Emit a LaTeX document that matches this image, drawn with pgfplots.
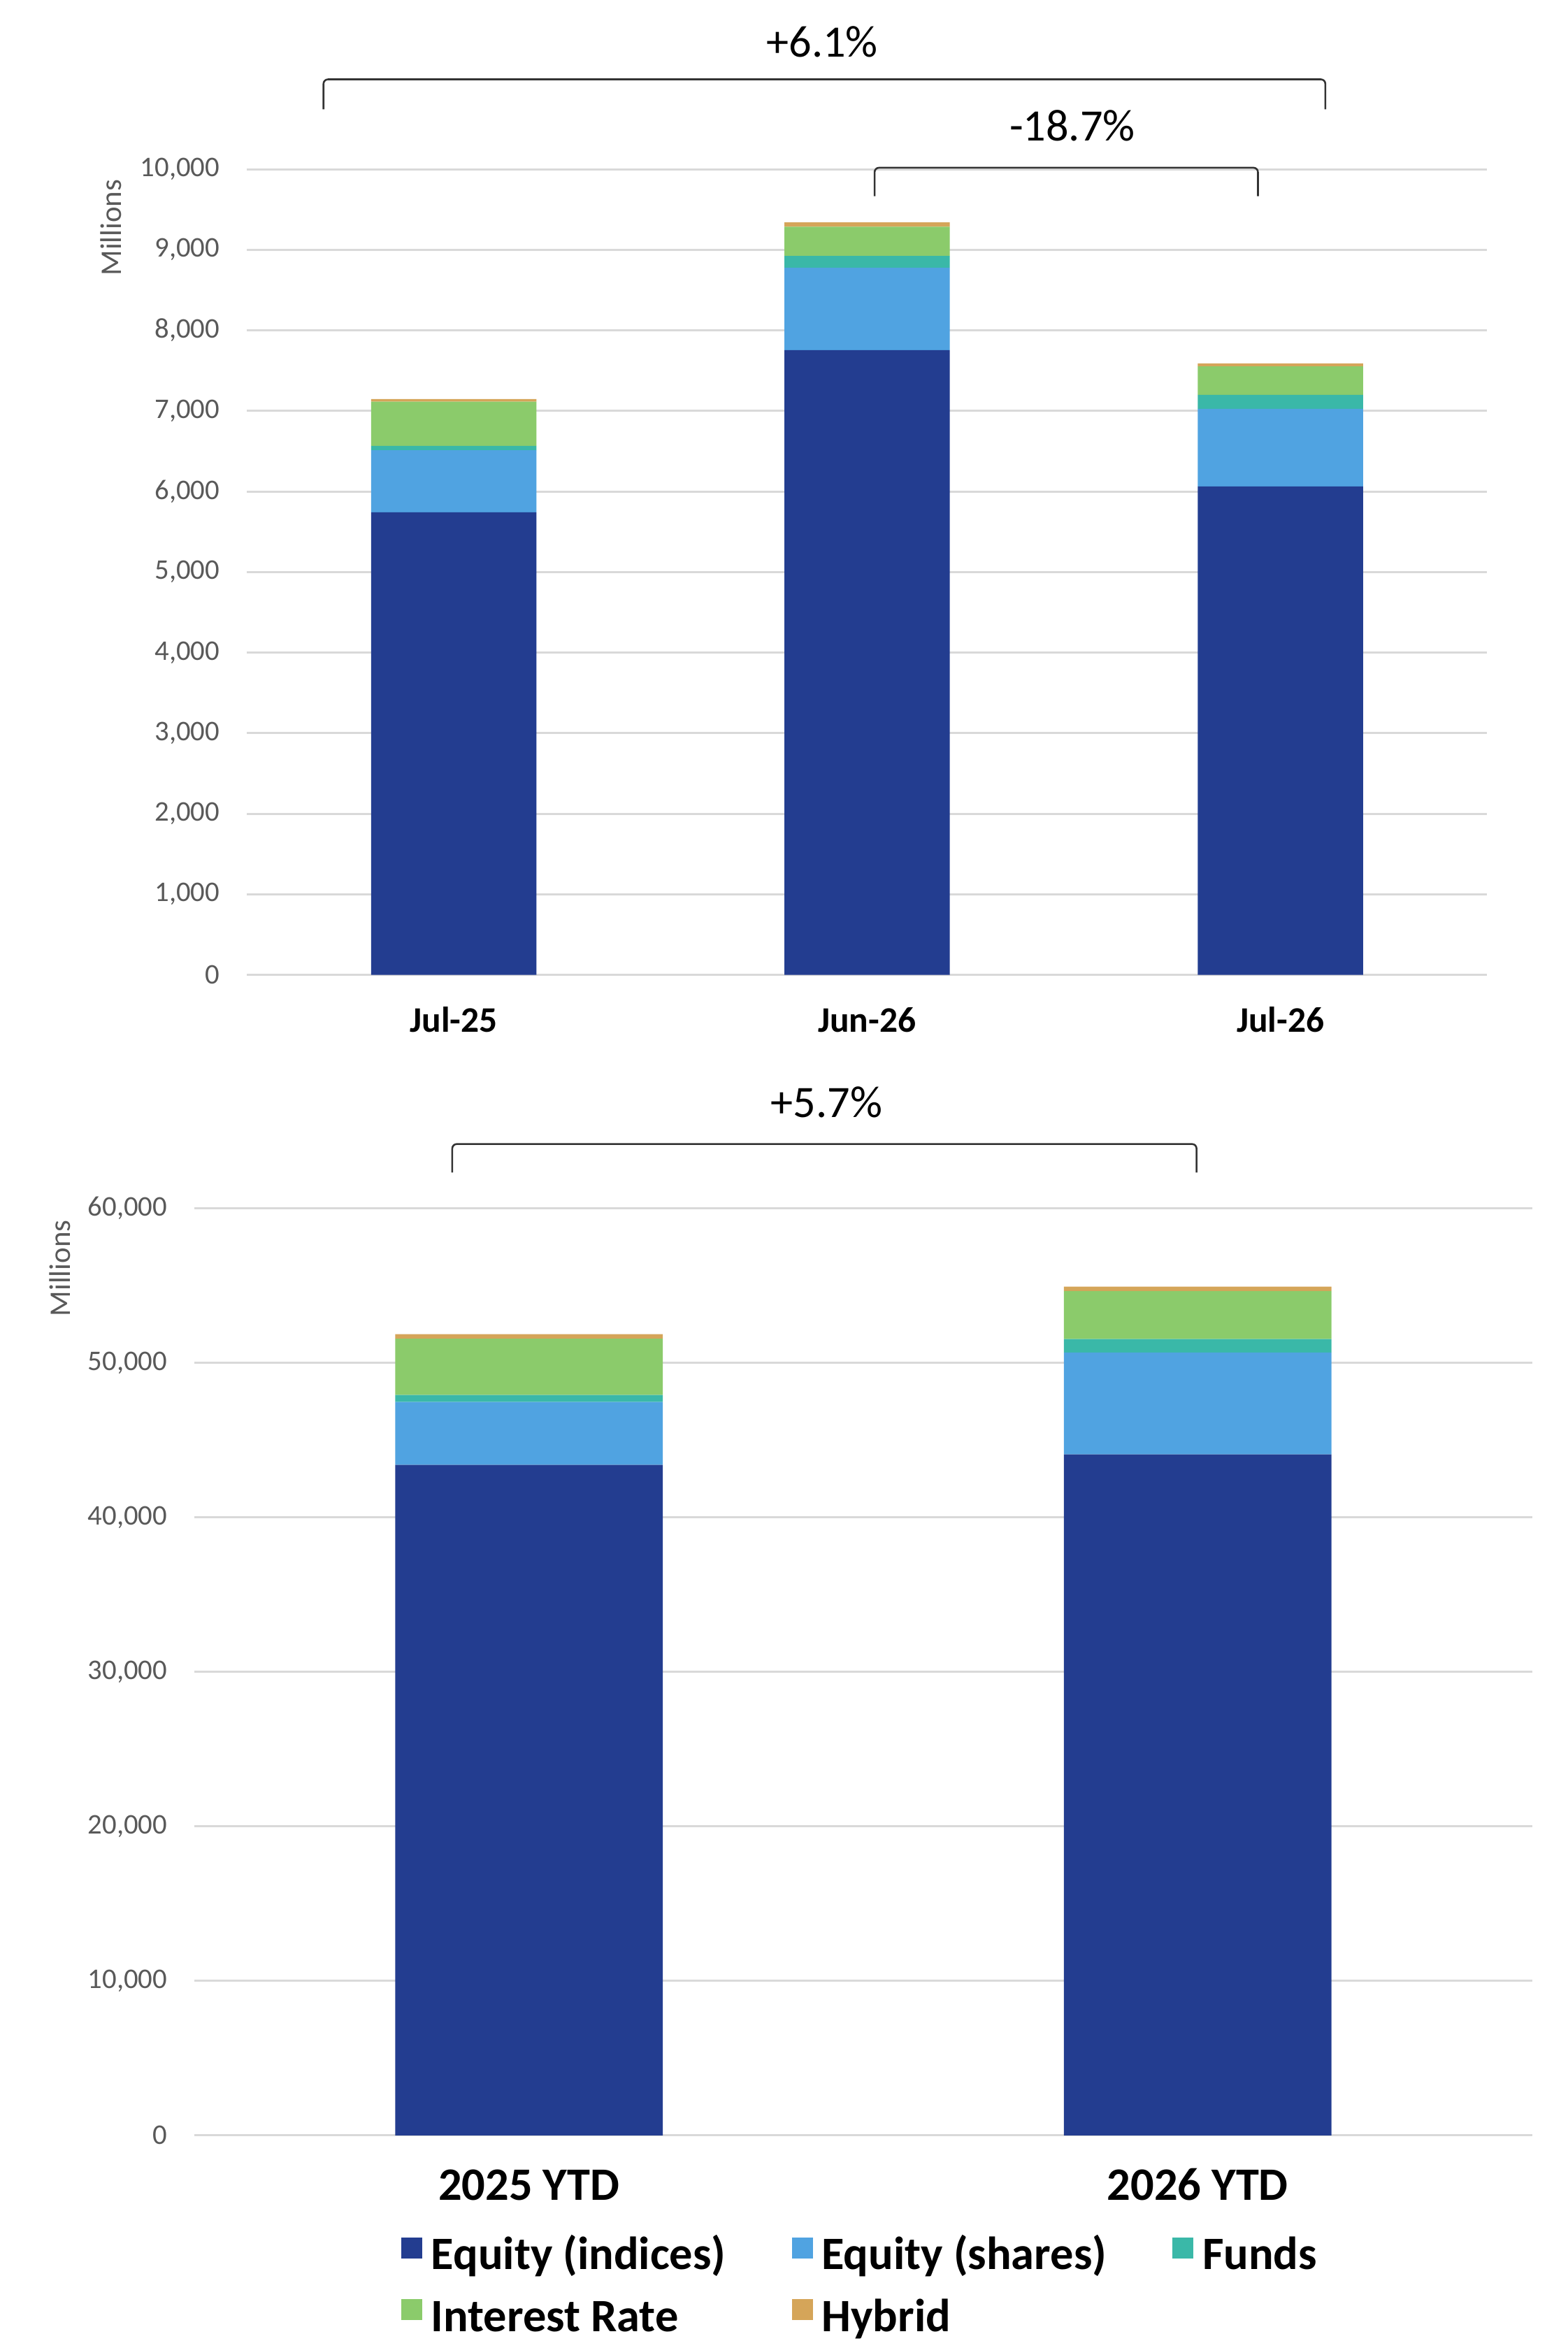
\documentclass[border=0pt]{standalone}
\usepackage{fontspec}
\setmainfont{Carlito}
\usepackage{pgfplots}
\pgfplotsset{compat=1.18}
\definecolor{cNavy}{HTML}{233D90}
\definecolor{cBlue}{HTML}{50A3E1}
\definecolor{cTeal}{HTML}{3AB8A8}
\definecolor{cGreen}{HTML}{8BCB6B}
\definecolor{cHyb}{HTML}{D5A559}
\definecolor{cGrid}{HTML}{D9D9D9}
\definecolor{cTick}{HTML}{595959}
\pgfplotsset{
  base/.style={
    scale only axis,
    ybar stacked,
    bar width=0.4,
    ymin=0,
    axis line style={draw=none},
    major tick style={draw=none},
    ymajorgrids,
    grid style={cGrid, line width=0.7pt},
    scaled y ticks=false,
    /pgf/number format/assume math mode=true,
    /pgf/number format/1000 sep={,},
    yticklabel style={font=\fontsize{9.5}{11}\selectfont, text=cTick, anchor=east, inner sep=0pt, xshift=-9pt},
    xtick={0,1,2},
    every axis plot/.append style={draw=none},
    clip=false,
  },
}
\begin{document}
\begin{tikzpicture}[x=0.5pt,y=0.5pt]
\path[use as bounding box] (0,0) rectangle (1047,-1568);
% ---------- top chart ----------
\begin{axis}[base,
  at={(82.5pt,-325.5pt)}, anchor=south west,
  width=414pt, height=269pt,
  xmin=-0.5, xmax=2.5, ymax=10000,
  ytick={0,1000,...,10000},
  xticklabels={Jul-25,Jun-26,Jul-26},
  xticklabel style={font=\bfseries\fontsize{12}{14}\selectfont, anchor=center, yshift=-15pt},
]
\addplot[fill=cNavy] coordinates {(0,5742) (1,7754) (2,6063)};
\addplot[fill=cBlue] coordinates {(0,769) (1,1023) (2,962)};
\addplot[fill=cTeal] coordinates {(0,54) (1,147) (2,174)};
\addplot[fill=cGreen] coordinates {(0,550) (1,362) (2,353)};
\addplot[fill=cHyb] coordinates {(0,32) (1,55) (2,37)};
\end{axis}
% ---------- bottom chart ----------
\begin{axis}[base,
  at={(65pt,-713pt)}, anchor=south west,
  width=446.5pt, height=309.5pt,
  xmin=-0.5, xmax=1.5, ymax=60000,
  ytick={0,10000,...,60000},
  xtick={0,1},
  xticklabels={2025 YTD,2026 YTD},
  xticklabel style={font=\bfseries\fontsize{15.5}{18}\selectfont, anchor=center, yshift=-16.5pt},
  legend columns=3,
  legend cell align=left,
  legend style={at={(0.1545,-0.1099)}, anchor=north west, draw=none, fill=none,
    inner sep=0pt, outer sep=0pt,
    font=\bfseries\fontsize{15.5}{18}\selectfont,
    nodes={inner sep=0pt, text height=10.5pt, text depth=3pt},
    row sep=7pt,
    /tikz/every odd column/.append style={column sep=3pt},
    /tikz/every even column/.append style={column sep=22pt}},
  legend image code/.code={\fill[#1] (0pt,0pt) rectangle (7pt,7pt);},
]
\addplot[fill=cNavy] coordinates {(0,43405) (1,44086)};
\addplot[fill=cBlue] coordinates {(0,4075) (1,6593)};
\addplot[fill=cTeal] coordinates {(0,452) (1,873)};
\addplot[fill=cGreen] coordinates {(0,3634) (1,3108)};
\addplot[fill=cHyb] coordinates {(0,303) (1,286)};
\legend{Equity (indices),Equity (shares),Funds,Interest Rate,Hybrid}
\end{axis}
% ---------- annotations ----------
\node[rotate=90, text=cTick, font=\fontsize{10}{11}\selectfont] at (74,-152) {Millions};
\node[rotate=90, text=cTick, font=\fontsize{10}{11}\selectfont] at (40,-847) {Millions};
\begin{scope}[line width=0.6pt, draw=black!80, rounded corners=1.5pt]
\draw (216,-73) -- (216,-53) -- (885,-53) -- (885,-73);
\draw (584,-131) -- (584,-112) -- (840,-112) -- (840,-131);
\draw (302,-783) -- (302,-764) -- (799,-764) -- (799,-783);
\end{scope}
\node[font=\fontsize{15}{17}\selectfont] at (549,-28) {+6.1\%};
\node[font=\fontsize{15}{17}\selectfont] at (716,-84) {-18.7\%};
\node[font=\fontsize{15}{17}\selectfont] at (552,-736) {+5.7\%};
\end{tikzpicture}
\end{document}
